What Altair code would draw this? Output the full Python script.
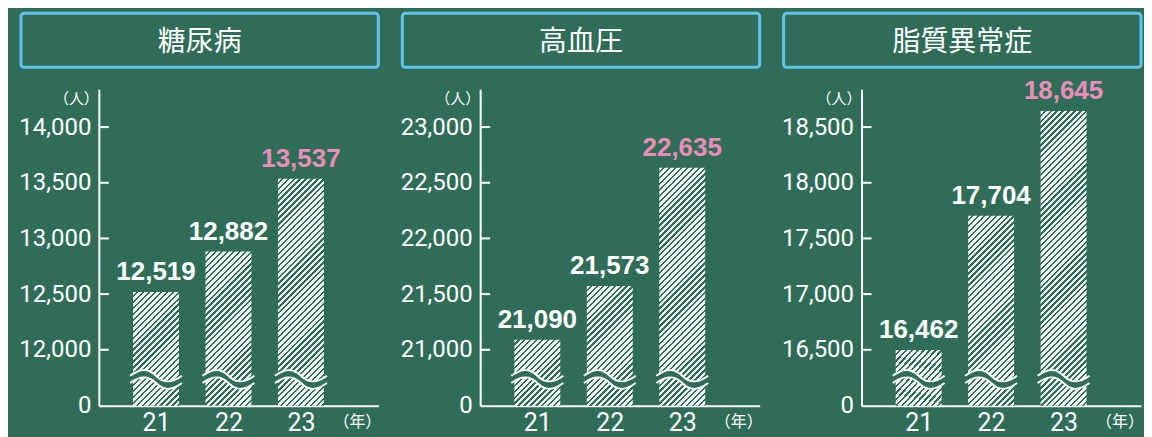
import altair as alt
import pandas as pd

# ---- data ----
titles = ["糖尿病", "高血圧", "脂質異常症"]
years = [21, 22, 23]
values_dm = [12519, 12882, 13537]
values_ht = [21090, 21573, 22635]
values_dl = [16462, 17704, 18645]
ticks_dm = [12000, 12500, 13000, 13500, 14000]
ticks_ht = [21000, 21500, 22000, 22500, 23000]
ticks_dl = [16500, 17000, 17500, 18000, 18500]
axis_top = [14340, 23340, 18840]
y_unit = "（人）"
x_unit = "（年）"

series = [values_dm, values_ht, values_dl]
ticks = [ticks_dm, ticks_ht, ticks_dl]

# ---- style ----
BG = "#306d58"
PINK = "#ec8db8"
BLUE = "#62c3ec"
W, H = 280, 317
GAP = 56
BAR_W = 46
BREAK_FRAC = 0.47
STRIPE = 4.2   # hatch period (px)
INK = 0.6      # share of each period in chalk

top_wave = "M -1 -0.14 C -0.6 -0.44 -0.3 -0.44 0 -0.14 S 0.6 0.16 1 -0.14"
bot_wave = "M -1 0.14 C -0.6 -0.16 -0.3 -0.16 0 0.14 S 0.6 0.44 1 0.14"
band = ("M -1 -0.14 C -0.6 -0.44 -0.3 -0.44 0 -0.14 S 0.6 0.16 1 -0.14 "
        "L 1 0.14 C 0.6 0.44 0.3 0.44 0 0.14 C -0.3 -0.16 -0.6 -0.16 -1 0.14 Z")


def hatch(h):
    """45-degree chalk hatch as a striped gradient for a bar h px tall."""
    r = BAR_W / h
    b = (r + 1) / (r * r + 1)
    a = b * r
    dt = STRIPE * 2 ** 0.5 / (BAR_W + h)
    stops = []
    k = 0
    while k * dt < 1:
        s = k * dt
        m = min(1, s + dt * INK)
        e = min(1, s + dt)
        stops += [alt.GradientStop(color="#f2f6f3", offset=s),
                  alt.GradientStop(color="#f2f6f3", offset=m),
                  alt.GradientStop(color=BG, offset=m),
                  alt.GradientStop(color=BG, offset=e)]
        k += 1
    return alt.LinearGradient(gradient="linear", stops=stops, x1=0, y1=0, x2=a, y2=b)


def panel(i):
    vals = series[i]
    low = ticks[i][0]
    top = axis_top[i]
    df = pd.DataFrame({
        "year": years,
        "value": vals,
        "label": [f"{v:,}" for v in vals],
        "kind": ["n", "n", "h"],
        "brk": [low * BREAK_FRAC] * 3,
    })
    yscale = alt.Scale(domain=[0, low, top], range=[H, H - GAP, 0],
                       nice=False, zero=False)
    xscale = alt.Scale(domain=[20.28, 24.0], nice=False, zero=False)
    yaxis = alt.Axis(
        values=[0] + ticks[i], labelExpr="format(datum.value, ',')", title=None,
        grid=False, ticks=False,
        domainColor="white", domainWidth=2, labelColor="white",
        labelFont="Roboto", labelFontSize=24, labelPadding=8)
    xaxis = alt.Axis(
        values=years, format="d", title=None, grid=False, ticks=False,
        domainColor="white", domainWidth=2, labelColor="white",
        labelFont="Roboto", labelFontSize=25, labelPadding=5)

    def X(f="year:Q"):
        return alt.X(f, scale=xscale, axis=xaxis)

    def Y(f):
        return alt.Y(f, scale=yscale, axis=yaxis)

    layers = []
    for yr, v in zip(years, vals):
        y_top = (H - GAP) - (v - low) / (top - low) * (H - GAP)
        layers.append(
            alt.Chart(df).transform_filter(alt.datum.year == yr)
            .mark_bar(width=BAR_W, color=hatch(H - y_top))
            .encode(x=X(), y=Y("value:Q")))

    tick_df = pd.DataFrame({"t": ticks[i]})
    tick_rules = alt.Chart(tick_df).mark_rule(color="white", strokeWidth=2).encode(
        y=Y("t:Q"), x=alt.value(0), x2=alt.value(10))

    labels = alt.Chart(df).mark_text(
        dy=-12, baseline="alphabetic", fontSize=26, fontWeight="bold",
        font="Liberation Sans").encode(
        x=X(), y=Y("value:Q"),
        text="label:N",
        color=alt.Color("kind:N", scale=alt.Scale(domain=["n", "h"], range=["white", PINK]),
                        legend=None))

    gap_band = alt.Chart(df).mark_point(
        shape=band, filled=True, color=BG, opacity=1, size=2704, strokeWidth=0).encode(
        x=X(), y=Y("brk:Q"))
    gap_lines = alt.Chart(df).mark_point(
        shape=top_wave + " " + bot_wave, filled=False, color="white", opacity=1,
        size=2704, strokeWidth=2).encode(x=X(), y=Y("brk:Q"))

    tdf = pd.DataFrame({"title": [titles[i]], "yu": [y_unit], "xu": [x_unit]})
    box = alt.Chart(tdf).mark_rect(
        fillOpacity=0, stroke=BLUE, strokeWidth=3, cornerRadius=3).encode(
        x=alt.value(-78), x2=alt.value(280), y=alt.value(-76), y2=alt.value(-22))
    title_txt = alt.Chart(tdf).mark_text(
        font="Noto Sans CJK JP", fontSize=28, color="white", baseline="middle",
        align="center").encode(x=alt.value(101), y=alt.value(-46), text="title:N")
    yunit = alt.Chart(tdf).mark_text(
        font="Noto Sans CJK JP", fontSize=15, color="white", align="right",
        baseline="middle").encode(x=alt.value(0), y=alt.value(10), text="yu:N")
    xunit = alt.Chart(tdf).mark_text(
        font="Noto Sans CJK JP", fontSize=16, color="white", align="right",
        baseline="middle").encode(x=alt.value(283), y=alt.value(333), text="xu:N")

    return alt.layer(*layers, gap_band, gap_lines, tick_rules, labels,
                     box, title_txt, yunit, xunit).properties(width=W, height=H)


chart = alt.hconcat(panel(0), panel(1), panel(2), spacing=102, bounds="flush").configure(
    background=BG,
    padding={"left": 10, "top": 3, "right": 0, "bottom": 2},
).configure_view(stroke=None)

chart.save("out.html", embed_options={"renderer": "svg", "actions": False})
